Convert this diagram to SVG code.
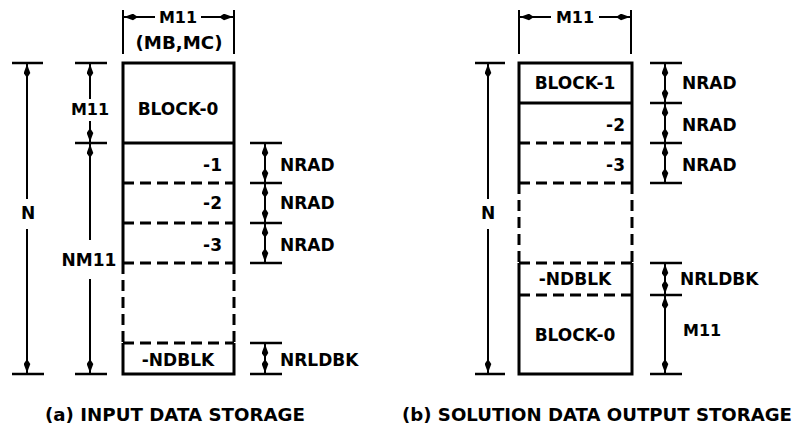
<svg xmlns="http://www.w3.org/2000/svg" width="795" height="426" viewBox="0 0 795 426">
<style>
text{font-family:"DejaVu Sans","Liberation Sans",sans-serif;font-weight:bold;fill:#000;font-size:17px}
.box{fill:none;stroke:#000;stroke-width:3}
.dash{fill:none;stroke:#000;stroke-width:3;stroke-dasharray:11 6}
.dim{fill:none;stroke:#000;stroke-width:2;marker-start:url(#ah);marker-end:url(#ah)}
.dim1{fill:none;stroke:#000;stroke-width:2;marker-end:url(#ah)}
.tick{fill:none;stroke:#000;stroke-width:2.5}
.ext{fill:none;stroke:#000;stroke-width:2}
.c{text-anchor:middle}
.r{text-anchor:end}
.s15{font-size:16px}
.cap{font-size:18px}
</style>
<defs>
<marker id="ah" viewBox="0 0 14 7" refX="14" refY="3.5" markerWidth="14" markerHeight="7" markerUnits="userSpaceOnUse" orient="auto-start-reverse">
<path d="M0,3.5 L5,0.2 L14,3.5 L5,6.8 z" fill="#000"/>
</marker>
</defs>

<!-- Panel (a) -->
<g id="a-block0">
<path class="box" d="M123,143 V63 H234 V143 M123,143 H234"/>
<text class="c" x="178" y="115">BLOCK-0</text>
</g>
<g id="a-block1">
<path class="box" d="M123,143 V183 M234,143 V183"/>
<path class="dash" d="M123,183 H234"/>
<text class="r" x="222" y="171">-1</text>
</g>
<g id="a-block2">
<path class="box" d="M123,183 V223 M234,183 V223"/>
<path class="dash" d="M123,223 H234"/>
<text class="r" x="222" y="209">-2</text>
</g>
<g id="a-block3">
<path class="box" d="M123,223 V263 M234,223 V263"/>
<path class="dash" d="M123,263 H234"/>
<text class="r" x="222" y="251">-3</text>
</g>
<g id="a-gap">
<path class="dash" d="M123,263 V343 M234,263 V343"/>
</g>
<g id="a-ndblk">
<path class="dash" d="M123,343 H234"/>
<path class="box" d="M123,343 V374 H234 V343"/>
<text class="c" x="178" y="366">-NDBLK</text>
</g>

<!-- Panel (b) -->
<g id="b-block1">
<path class="box" d="M519,103 V63 H632 V103 M519,103 H632"/>
<text class="c" x="575" y="89">BLOCK-1</text>
</g>
<g id="b-block2">
<path class="box" d="M519,103 V143 M632,103 V143"/>
<path class="dash" d="M519,143 H632"/>
<text class="r" x="625" y="131">-2</text>
</g>
<g id="b-block3">
<path class="box" d="M519,143 V183 M632,143 V183"/>
<path class="dash" d="M519,183 H632"/>
<text class="r" x="625" y="171">-3</text>
</g>
<g id="b-gap">
<path class="dash" d="M519,183 V263 M632,183 V263"/>
</g>
<g id="b-ndblk">
<path class="dash" d="M519,263 H632 M519,295 H632"/>
<path class="box" d="M519,263 V295 M632,263 V295"/>
<text class="c" x="575" y="285">-NDBLK</text>
</g>
<g id="b-block0">
<path class="box" d="M519,295 V374 H632 V295"/>
<text class="c" x="575" y="341">BLOCK-0</text>
</g>

<!-- Connectors / dimensions -->
<g id="connectors">
<!-- (a) top width -->
<path class="ext" d="M123,10 V54 M234,10 V54"/>
<path class="dim1" d="M155,17 H124"/>
<path class="dim1" d="M201,17 H233"/>
<!-- (a) N -->
<path class="tick" d="M12,63 H43 M12,374 H44"/>
<path class="dim1" d="M27,199 V64"/>
<path class="dim1" d="M27,229 V373"/>
<!-- (a) M11 / NM11 -->
<path class="tick" d="M75,63 H107 M75,143 H107 M75,374 H107"/>
<path class="dim1" d="M90,99 V64"/>
<path class="dim1" d="M90,121 V142"/>
<path class="dim1" d="M90,240 V144"/>
<path class="dim1" d="M90,279 V373"/>
<!-- (a) NRAD -->
<path class="tick" d="M250,143 H282 M250,183 H282 M250,223 H282 M250,263 H282"/>
<path class="dim" d="M265,144 V182"/>
<path class="dim" d="M265,184 V222"/>
<path class="dim" d="M265,224 V262"/>
<!-- (a) NRLDBK -->
<path class="tick" d="M250,343 H282 M250,374 H282"/>
<path class="dim" d="M265,344 V373"/>

<!-- (b) top width -->
<path class="ext" d="M519,10 V54 M631,10 V54"/>
<path class="dim1" d="M551,17 H520"/>
<path class="dim1" d="M599,17 H630"/>
<!-- (b) N -->
<path class="tick" d="M475,63 H505 M475,374 H505"/>
<path class="dim1" d="M488,199 V64"/>
<path class="dim1" d="M488,229 V373"/>
<!-- (b) NRAD -->
<path class="tick" d="M650,63 H682 M650,103 H682 M650,143 H682 M650,183 H682"/>
<path class="dim" d="M665,64 V102"/>
<path class="dim" d="M665,104 V142"/>
<path class="dim" d="M665,144 V182"/>
<!-- (b) NRLDBK / M11 -->
<path class="tick" d="M650,263 H682 M650,295 H682 M650,374 H682"/>
<path class="dim" d="M665,264 V294"/>
<path class="dim" d="M665,296 V373"/>
</g>

<!-- Dimension labels -->
<g id="labels">
<text class="c s15" x="178" y="23">M11</text>
<text class="c" x="179" y="49" textLength="87" lengthAdjust="spacingAndGlyphs">(MB,MC)</text>
<text class="c" x="28" y="219">N</text>
<text class="c s15" x="90" y="115">M11</text>
<text class="c" x="89" y="266">NM11</text>
<text x="280" y="171">NRAD</text>
<text x="280" y="209">NRAD</text>
<text x="280" y="251">NRAD</text>
<text x="280" y="366">NRLDBK</text>
<text class="c s15" x="575" y="23">M11</text>
<text class="c" x="488" y="219">N</text>
<text x="682" y="89">NRAD</text>
<text x="682" y="131">NRAD</text>
<text x="682" y="171">NRAD</text>
<text x="680" y="285">NRLDBK</text>
<text class="s15" x="683" y="336">M11</text>
<text class="cap" x="45" y="421" textLength="260" lengthAdjust="spacingAndGlyphs">(a)  INPUT DATA STORAGE</text>
<text class="cap" x="402" y="421" textLength="390" lengthAdjust="spacingAndGlyphs">(b)  SOLUTION DATA OUTPUT STORAGE</text>
</g>
</svg>
